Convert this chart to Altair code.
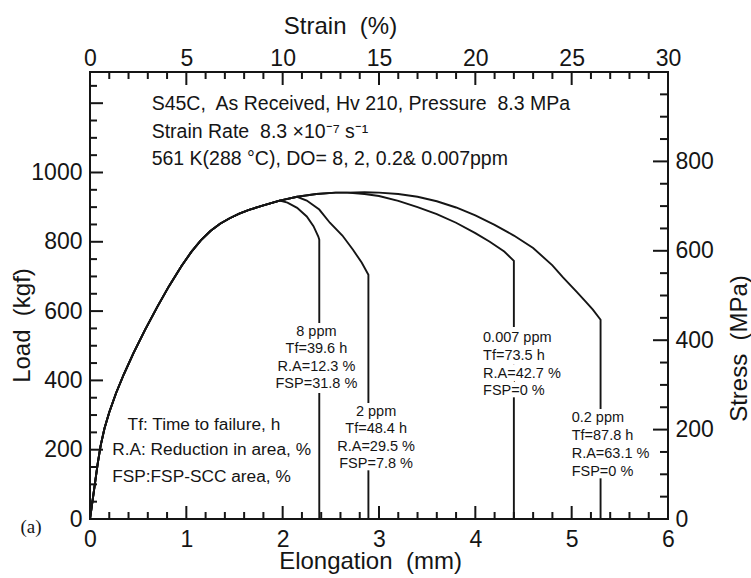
import altair as alt
import pandas as pd

FONT = "Liberation Sans"
INK = "#151515"

# ---- load-elongation curves (elongation in mm, load in kgf) ----
# common loading branch shared by all four specimens
main_mm = [0.00, 0.04, 0.08, 0.11, 0.15, 0.20, 0.27, 0.35, 0.45, 0.57, 0.70,
           0.82, 0.95, 1.05, 1.15, 1.25, 1.35, 1.45, 1.55, 1.65, 1.80, 1.97]
main_kgf = [0, 80, 160, 211, 261, 308, 363, 417, 478, 545, 613,
            672, 730, 770, 804, 831, 852, 868, 881, 892, 905, 919]
# shared part beyond the 8 ppm split, up to the maximum load
mid_mm = [2.15, 2.35, 2.55, 2.67]
mid_kgf = [930, 938, 942, 942]

ppm8_mm = [2.05, 2.15, 2.25, 2.32, 2.37, 2.38, 2.38]
ppm8_kgf = [913, 898, 873, 845, 815, 806, 0]

ppm2_mm = [2.25, 2.38, 2.49, 2.62, 2.73, 2.82, 2.89, 2.89]
ppm2_kgf = [919, 893, 855, 818, 777, 740, 705, 0]

ppm0007_mm = [2.85, 3.00, 3.20, 3.40, 3.60, 3.80, 4.00, 4.15, 4.30, 4.40, 4.40]
ppm0007_kgf = [938, 932, 918, 900, 880, 855, 825, 800, 772, 745, 0]

ppm02_mm = [2.85, 3.00, 3.20, 3.40, 3.60, 3.80, 4.00, 4.20, 4.40, 4.60, 4.80,
            4.91, 5.05, 5.15, 5.22, 5.30, 5.30]
ppm02_kgf = [943, 942, 938, 930, 917, 899, 876, 849, 818, 782, 732,
             697, 656, 626, 604, 575, 0]

# ---- specimen annotations ----
tag8_lines = ["8 ppm", "Tf=39.6 h", "R.A=12.3 %", "FSP=31.8 %"]
tag2_lines = ["2 ppm", "Tf=48.4 h", "R.A=29.5 %", "FSP=7.8 %"]
tag0007_lines = ["0.007 ppm", "Tf=73.5 h", "R.A=42.7 %", "FSP=0 %"]
tag02_lines = ["0.2 ppm", "Tf=87.8 h", "R.A=63.1 %", "FSP=0 %"]
tag8_x, tag8_y = 2.35, [540, 490, 439, 389]
tag2_x, tag2_y = 2.97, [309, 259, 208, 158]
tag0007_x, tag0007_y = 4.08, [523, 471, 419, 370]
tag02_x, tag02_y = 5.00, [292, 240, 188, 136]

key_lines = ["Tf: Time to failure, h", "R.A: Reduction in area, %", "FSP:FSP-SCC area, %"]
key_x = [0.39, 0.23, 0.23]
key_y = [272, 199, 121]

head_lines = ["S45C,\u00a0 As Received, Hv 210, Pressure\u00a0 8.3 MPa",
              "Strain Rate\u00a0 8.3 \u00d710\u207b\u2077 s\u207b\u00b9",
              "561 K(288 \u00b0C), DO= 8, 2, 0.2& 0.007ppm"]
head_x = [0.64, 0.64, 0.64]
head_y = [1197, 1118, 1040]

# ---- axis ticks ----
mm_major = [0, 1, 2, 3, 4, 5, 6]
mm_minor = [round(i * 0.2, 1) for i in range(31) if i % 5]
kgf_labels = [0, 200, 400, 600, 800, 1000]
kgf_major = [0, 200, 400, 600, 800, 1000, 1200]
kgf_minor = [v for v in range(0, 1290, 50) if v % 200]
strain_major = [0, 5, 10, 15, 20, 25, 30]
strain_minor = [v for v in range(0, 31) if v % 5]
mpa_labels = [0, 200, 400, 600, 800]
mpa_major = [0, 200, 400, 600, 800]
mpa_minor = [v for v in range(0, 1000, 50) if v % 200]

W, H = 578, 447
MM_DOMAIN, KGF_DOMAIN, STRAIN_DOMAIN, MPA_DOMAIN = [0, 6], [0, 1290], [0, 30], [0, 1000]


def series(name, xs, ys):
    return pd.DataFrame({"specimen": name, "seq": range(len(xs)), "mm": xs, "kgf": ys})


curves = pd.concat([
    series("8 ppm", main_mm + ppm8_mm, main_kgf + ppm8_kgf),
    series("2 ppm", main_mm + mid_mm[:1] + ppm2_mm, main_kgf + mid_kgf[:1] + ppm2_kgf),
    series("0.007 ppm", main_mm + mid_mm + ppm0007_mm, main_kgf + mid_kgf + ppm0007_kgf),
    series("0.2 ppm", main_mm + mid_mm + ppm02_mm, main_kgf + mid_kgf + ppm02_kgf),
], ignore_index=True)


def tag(lines, x, ys):
    return pd.DataFrame({"t": lines, "mm": x, "kgf": ys})


tags_center = pd.concat([tag(tag8_lines, tag8_x, tag8_y),
                         tag(tag2_lines, tag2_x, tag2_y)], ignore_index=True)
tags_left = pd.concat([tag(tag0007_lines, tag0007_x, tag0007_y),
                       tag(tag02_lines, tag02_x, tag02_y)], ignore_index=True)
keys = pd.DataFrame({"t": key_lines, "mm": key_x, "kgf": key_y})
heads = pd.DataFrame({"t": head_lines, "mm": head_x, "kgf": head_y})

axis_common = dict(ticks=False, domain=False, grid=False,
                   labelFont=FONT, labelFontSize=23, labelColor=INK,
                   labelFlush=False, labelOverlap=False,
                   titleFont=FONT, titleFontSize=24, titleFontWeight="normal",
                   titleColor=INK, titleBaseline="alphabetic")

ax_bottom = alt.Axis(orient="bottom", title="Elongation\u00a0 (mm)", values=mm_major,
                     format="d", labelPadding=9, titleX=280, titleY=49, **axis_common)
ax_left = alt.Axis(orient="left", title="Load\u00a0 (kgf)", values=kgf_labels,
                   format="d", labelPadding=8, titleAngle=270, titleX=-61, titleY=253,
                   **axis_common)
ax_top = alt.Axis(orient="top", title="Strain\u00a0 (%)", values=strain_major,
                  format="d", labelPadding=2, titleX=250, titleY=-39, **axis_common)
ax_right = alt.Axis(orient="right", title="Stress\u00a0 (MPa)", values=mpa_labels,
                    format="d", labelPadding=7, titleAngle=270, titleX=78, titleY=276,
                    **axis_common)

X_MM = alt.X("mm:Q", scale=alt.Scale(domain=MM_DOMAIN, nice=False, zero=False), axis=ax_bottom)
Y_KGF = alt.Y("kgf:Q", scale=alt.Scale(domain=KGF_DOMAIN, nice=False, zero=False), axis=ax_left)

lines = alt.Chart(curves).mark_line(color=INK, strokeWidth=1.9).encode(
    x=X_MM, y=Y_KGF, detail="specimen:N", order="seq:Q")

tag_font = dict(font=FONT, fontSize=14.5, baseline="middle")
halo = dict(color="white", stroke="white", strokeWidth=10)

halo_c = alt.Chart(tags_center).mark_text(align="center", **tag_font, **halo).encode(
    x=X_MM, y=Y_KGF, text="t:N")
text_c = alt.Chart(tags_center).mark_text(align="center", color=INK, **tag_font).encode(
    x=X_MM, y=Y_KGF, text="t:N")
halo_l = alt.Chart(tags_left).mark_text(align="left", **tag_font, **halo).encode(
    x=X_MM, y=Y_KGF, text="t:N")
text_l = alt.Chart(tags_left).mark_text(align="left", color=INK, **tag_font).encode(
    x=X_MM, y=Y_KGF, text="t:N")

key_text = alt.Chart(keys).mark_text(
    font=FONT, fontSize=17.3, align="left", baseline="middle", color=INK).encode(
    x=X_MM, y=Y_KGF, text="t:N")
head_text = alt.Chart(heads).mark_text(
    font=FONT, fontSize=19.5, align="left", baseline="middle", color=INK).encode(
    x=X_MM, y=Y_KGF, text="t:N")

panel = alt.Chart(pd.DataFrame({"t": ["(a)"]})).mark_text(
    font="Liberation Serif", fontSize=19, align="center", baseline="middle", color=INK).encode(
    x=alt.value(-59), y=alt.value(455), text="t:N")

# inward frame ticks, drawn as rules from the tick value lists
TW = 2
b_major = alt.Chart(pd.DataFrame({"mm": mm_major})).mark_rule(color=INK, strokeWidth=TW).encode(
    x=X_MM, y=alt.value(H), y2=alt.value(H - 13))
b_minor = alt.Chart(pd.DataFrame({"mm": mm_minor})).mark_rule(color=INK, strokeWidth=TW).encode(
    x=X_MM, y=alt.value(H), y2=alt.value(H - 7))
l_major = alt.Chart(pd.DataFrame({"kgf": kgf_major})).mark_rule(color=INK, strokeWidth=TW).encode(
    y=Y_KGF, x=alt.value(0), x2=alt.value(13))
l_minor = alt.Chart(pd.DataFrame({"kgf": kgf_minor})).mark_rule(color=INK, strokeWidth=TW).encode(
    y=Y_KGF, x=alt.value(0), x2=alt.value(7))

inner = alt.layer(lines, halo_c, halo_l, text_c, text_l, key_text, head_text, panel,
                  b_major, b_minor, l_major, l_minor)

X_STRAIN = alt.X("strain:Q", scale=alt.Scale(domain=STRAIN_DOMAIN, nice=False, zero=False), axis=ax_top)
t_major = alt.Chart(pd.DataFrame({"strain": strain_major})).mark_rule(color=INK, strokeWidth=TW).encode(
    x=X_STRAIN, y=alt.value(0), y2=alt.value(13))
t_minor = alt.Chart(pd.DataFrame({"strain": strain_minor})).mark_rule(color=INK, strokeWidth=TW).encode(
    x=X_STRAIN, y=alt.value(0), y2=alt.value(7))
top_group = alt.layer(t_major, t_minor)

Y_MPA = alt.Y("stress:Q", scale=alt.Scale(domain=MPA_DOMAIN, nice=False, zero=False), axis=ax_right)
r_major = alt.Chart(pd.DataFrame({"stress": mpa_major})).mark_rule(color=INK, strokeWidth=TW).encode(
    y=Y_MPA, x=alt.value(W), x2=alt.value(W - 15))
r_minor = alt.Chart(pd.DataFrame({"stress": mpa_minor})).mark_rule(color=INK, strokeWidth=TW).encode(
    y=Y_MPA, x=alt.value(W), x2=alt.value(W - 8))
right_group = alt.layer(r_major, r_minor)

chart = alt.layer(inner, top_group, right_group).resolve_scale(
    x="independent", y="independent"
).properties(
    width=W, height=H,
    autosize=alt.AutoSizeParams(type="none"),
    padding={"left": 90, "top": 72, "right": 83, "bottom": 59},
    background="white",
).configure_view(stroke=INK, strokeWidth=2)

chart.save("out.html", embed_options={"renderer": "svg", "actions": False})
